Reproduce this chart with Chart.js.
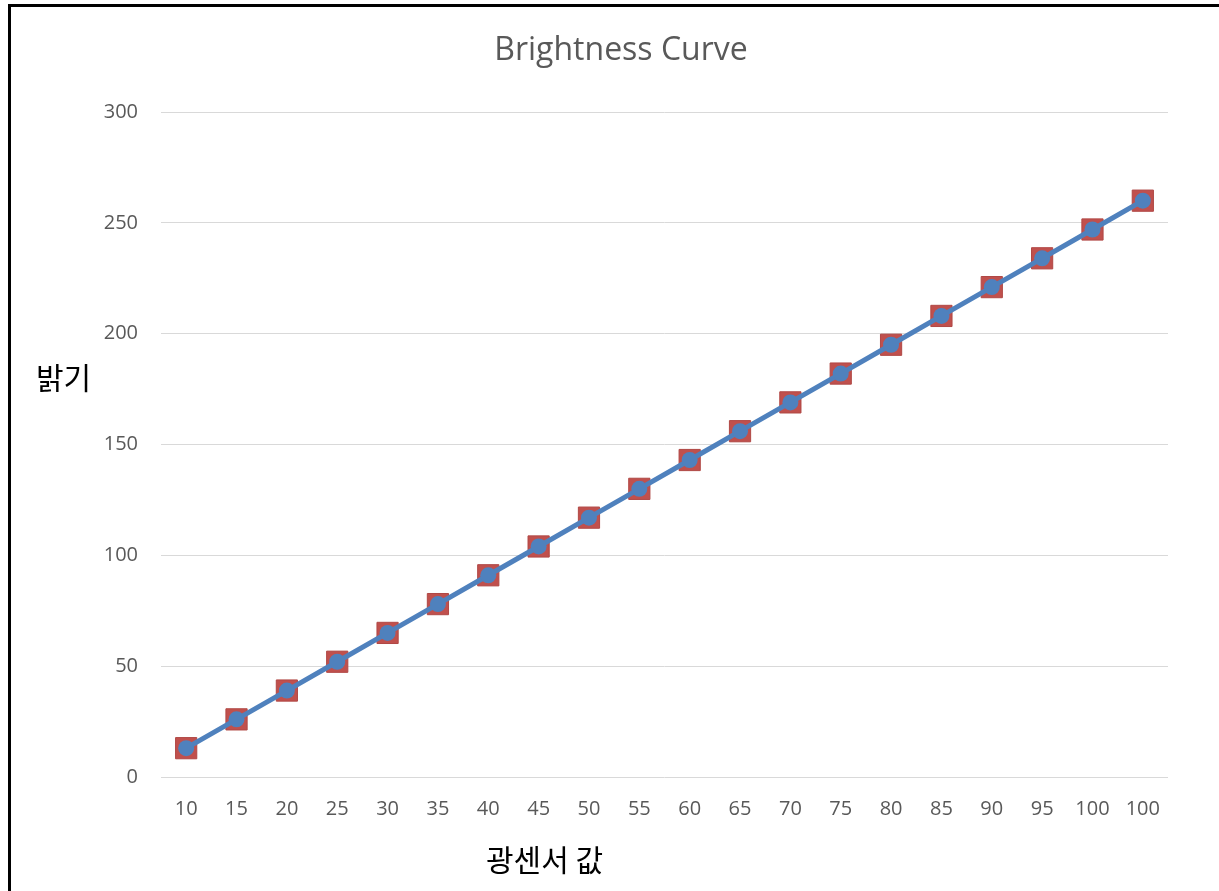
<!DOCTYPE html>
<html>
<head>
<meta charset="utf-8">
<script src="https://cdn.jsdelivr.net/npm/chart.js@4/dist/chart.umd.min.js"></script>
<style>
    html, body { margin: 0; padding: 0; background: #fff; }
    #wrap { position: relative; width: 1219px; height: 891px; overflow: hidden; }
    #frame { position: absolute; left: 8px; top: 4px; width: 1300px; height: 1000px;
             border-left: 3px solid #000; border-top: 3px solid #000; box-sizing: border-box; }
    #chart { position: absolute; left: 0; top: 0; }
</style>
</head>
<body>
<div id="wrap">
    <div id="frame"></div>
    <canvas id="chart" width="1219" height="891"></canvas>
</div>
<script>
const title = 'Brightness Curve';
const xTitle = '광센서 값';
const yTitle = '밝기';
const sensorValues = ['10', '15', '20', '25', '30', '35', '40', '45', '50', '55',
                      '60', '65', '70', '75', '80', '85', '90', '95', '100', '100'];
const brightness = [13, 26, 39, 52, 65, 78, 91, 104, 117, 130,
                    143, 156, 169, 182, 195, 208, 221, 234, 247, 260];
const markerValues = [13, 26, 39, 52, 65, 78, 91, 104, 117, 130,
                      143, 156, 169, 182, 195, 208, 221, 234, 247, 260];

// titles are placed where Excel put them, not where Chart.js would
const textPlugin = {
    id: 'texts',
    afterDraw(chart) {
        const ctx = chart.ctx;
        ctx.save();
        ctx.textBaseline = 'middle';
        ctx.fillStyle = '#595959';
        ctx.font = '32px "Open Sans"';
        ctx.textAlign = 'center';
        ctx.fillText(title, 621, 51);
        ctx.fillStyle = '#000';
        ctx.font = '30px "Noto Sans CJK KR"';
        ctx.textAlign = 'left';
        ctx.fillText(yTitle, 36, 378);
        ctx.fillText(xTitle, 486, 860);
        ctx.restore();
    }
};

const ctx = document.getElementById('chart');
new Chart(ctx, {
    type: 'line',
    data: {
        labels: sensorValues,
        datasets: [{
            label: 'line',
            data: brightness,
            borderColor: '#4F81BD',
            backgroundColor: '#4F81BD',
            borderWidth: 5,
            pointRadius: 8,
            pointBorderWidth: 0,
            pointBackgroundColor: '#4F81BD',
            order: 1
        }, {
            label: 'markers',
            data: markerValues,
            showLine: false,
            pointStyle: 'rect',
            pointRadius: 15,
            pointBorderWidth: 1,
            pointBackgroundColor: '#C0504D',
            pointBorderColor: '#B04845',
            order: 2
        }]
    },
    options: {
        responsive: false,
        animation: false,
        events: [],
        layout: {
            autoPadding: false,
            padding: { left: 0, top: 112, right: 51, bottom: 0 }
        },
        scales: {
            x: {
                offset: true,
                grid: { display: false, drawTicks: false },
                border: { display: false },
                ticks: {
                    color: '#595959',
                    font: { family: 'Open Sans', size: 20 },
                    padding: 20,
                    maxRotation: 0,
                    autoSkip: false
                },
                afterFit(scale) { scale.height = 114; }
            },
            y: {
                min: 0,
                max: 300,
                grid: { color: '#D9D9D9', lineWidth: 1, drawTicks: false },
                border: { display: false },
                ticks: {
                    stepSize: 50,
                    color: '#595959',
                    font: { family: 'Open Sans', size: 20 },
                    padding: 23
                },
                afterFit(scale) { scale.width = 161; }
            }
        },
        plugins: {
            legend: { display: false },
            tooltip: { enabled: false }
        }
    },
    plugins: [textPlugin]
});
</script>
</body>
</html>
